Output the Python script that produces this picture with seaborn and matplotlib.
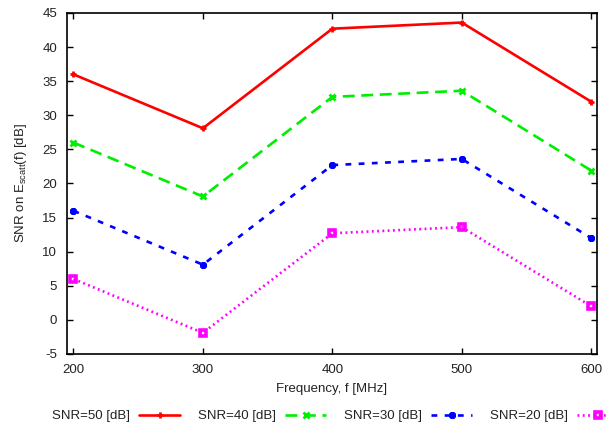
import matplotlib
matplotlib.use("Agg")
import matplotlib.pyplot as plt
import seaborn as sns

# Frequencies and SNR curves
freqs = [200, 300, 400, 500, 600]
snr50 = [36.0, 28.1, 42.7, 43.6, 32.0]
snr40 = [26.0, 18.1, 32.7, 33.6, 21.9]
snr30 = [16.0, 8.1, 22.7, 23.6, 12.0]
snr20 = [6.0, -1.9, 12.7, 13.6, 2.0]
labels = ["SNR=50 [dB]", "SNR=40 [dB]", "SNR=30 [dB]", "SNR=20 [dB]"]
xticks = [200, 300, 400, 500, 600]
yticks = list(range(-5, 50, 5))

sns.set_style("ticks")
plt.rcParams["font.family"] = ["Liberation Sans", "DejaVu Sans"]
plt.rcParams["mathtext.fontset"] = "custom"
plt.rcParams["mathtext.rm"] = "Liberation Sans"
plt.rcParams["axes.unicode_minus"] = False

fig = plt.figure(figsize=(6.09, 4.32), dpi=100)
ax = fig.add_axes([67 / 609, 1 - 354 / 432, 530 / 609, 341 / 432])

series = [snr50, snr40, snr30, snr20]
colors = ["#ff0000", "#00ee00", "#0000ff", "#ff00ff"]
markers = ["+", "x", (8, 2, 0), "s"]
msizes = [4.5, 5, 5, 4.5]
mews = [2.0, 2.0, 1.4, 2.6]
dash_list = [None, (4.5, 2.5), (2.2, 2.8), (0.7, 1.3)]

for vals, lab, col, mk, ms, mw, ds in zip(series, labels, colors, markers, msizes, mews, dash_list):
    sns.lineplot(x=freqs, y=vals, ax=ax, color=col, label=lab,
                 linewidth=1.9, legend=False)
    line = ax.lines[-1]
    line.set_marker(mk)
    line.set_markersize(ms)
    line.set_markeredgecolor(col)
    line.set_markeredgewidth(mw)
    line.set_markerfacecolor("none" if mk == "s" else col)
    if ds is not None:
        line.set_dashes(ds)

ax.set_xlim(195, 604.5)
ax.set_ylim(-5, 45)
ax.set_xticks(xticks)
ax.set_yticks(yticks)
ax.tick_params(direction="in", length=4, width=1, top=True, right=True,
               labelsize=9.5, pad=7, colors="black", labelcolor="#222222")
for sp in ax.spines.values():
    sp.set_visible(True)
    sp.set_linewidth(1.2)
    sp.set_color("black")

ax.set_xlabel("Frequency, f [MHz]", fontsize=9.5, color="#222222", labelpad=5)
ax.set_ylabel(r"SNR on E$_\mathregular{scatt}$(f) [dB]", fontsize=9.5,
              color="#222222", labelpad=10)

handles, labs = ax.get_legend_handles_labels()
fig.legend(handles, labs, loc="center left", bbox_to_anchor=(52 / 609, 1 - 416 / 432),
           ncol=4, frameon=False, markerfirst=False, fontsize=9.5,
           handlelength=3.1, handletextpad=0.7, columnspacing=1.35,
           borderpad=0, borderaxespad=0, labelcolor="#222222")

fig.savefig("out.png", dpi=100)
